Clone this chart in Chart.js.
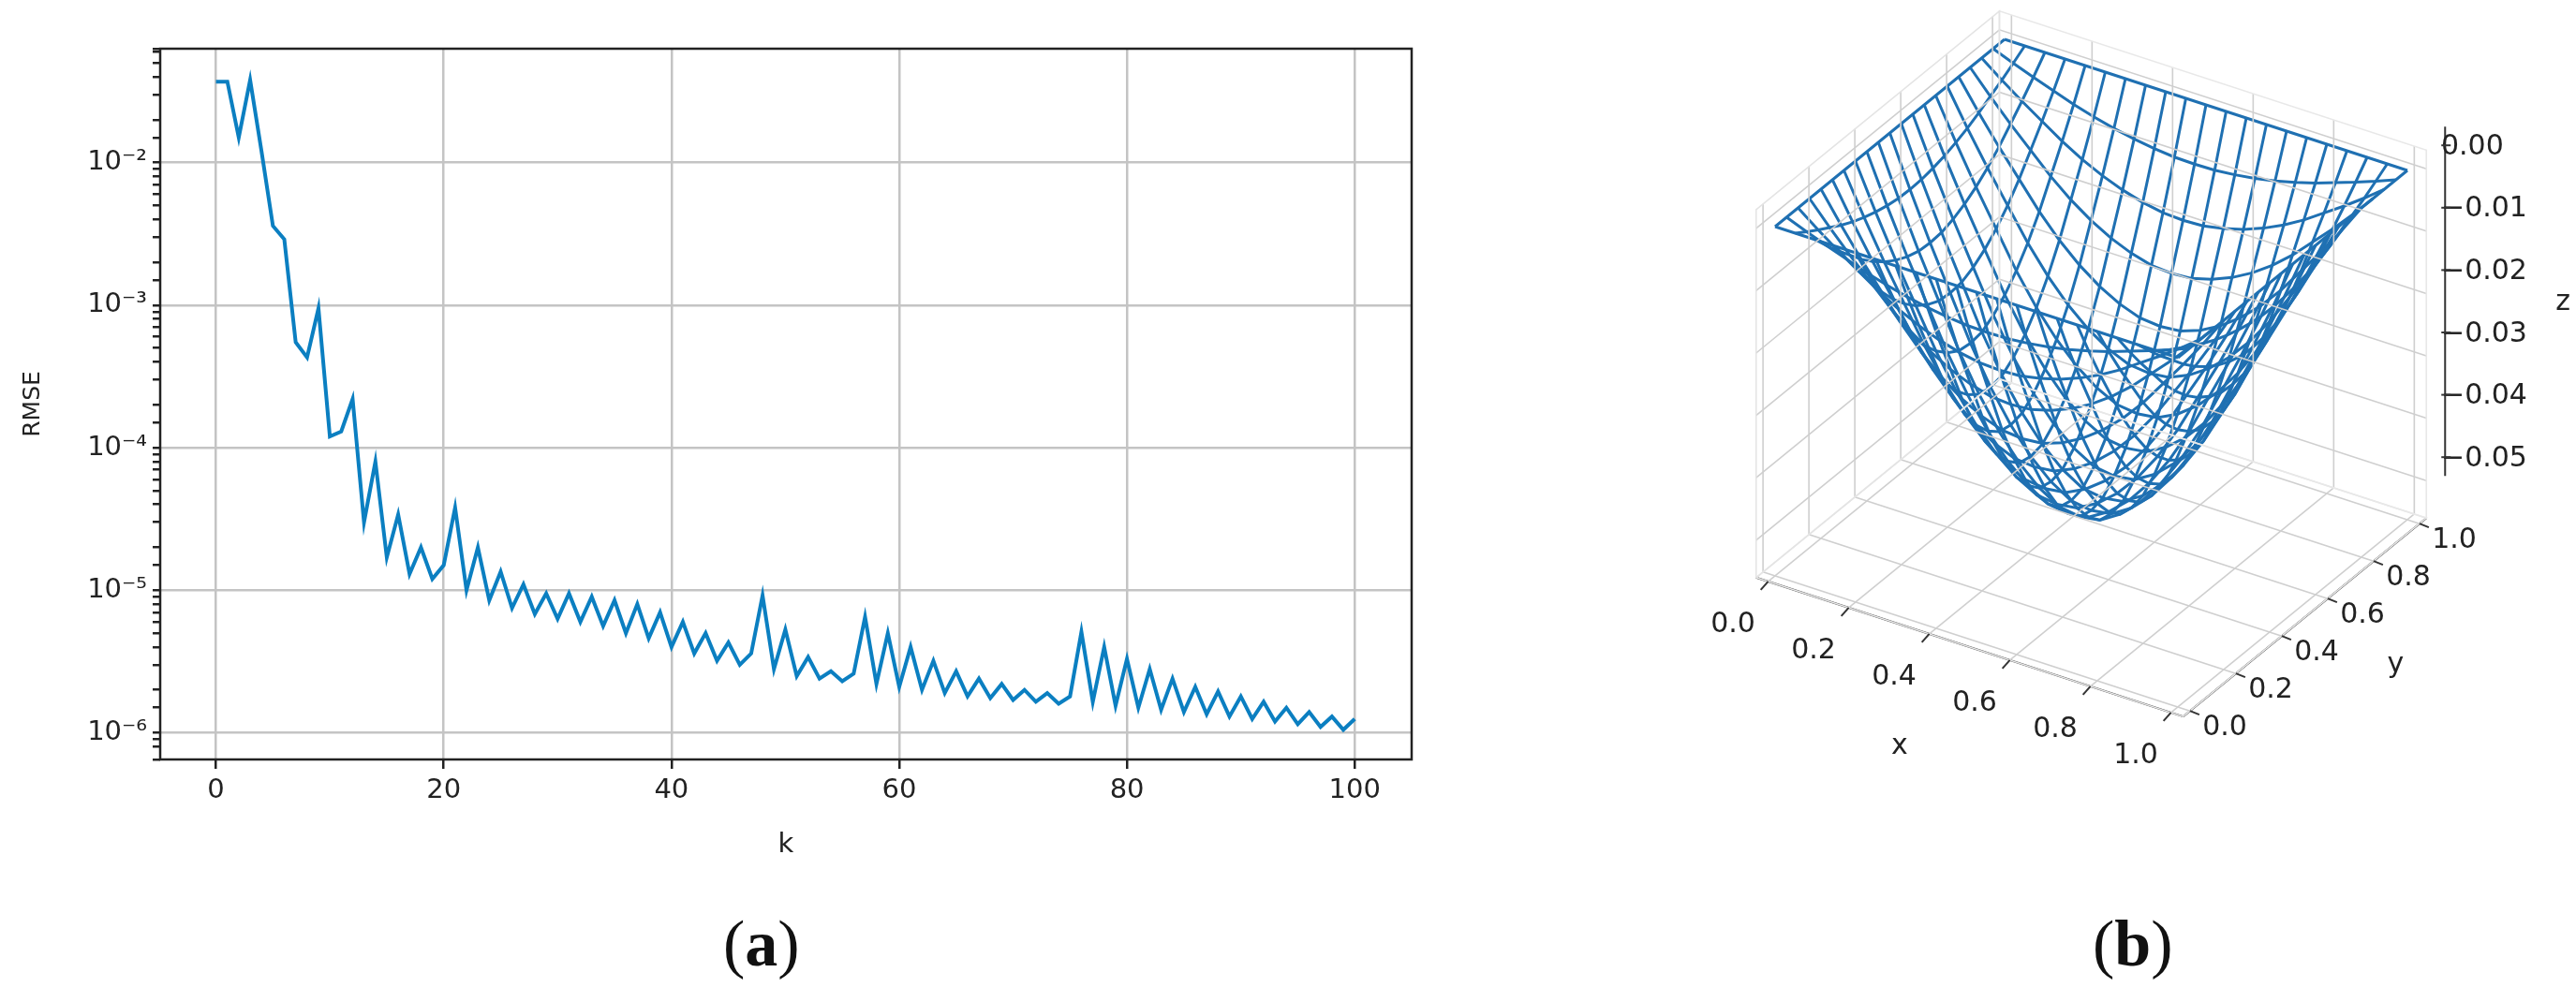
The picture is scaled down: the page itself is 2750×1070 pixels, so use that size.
<!DOCTYPE html>
<html><head><meta charset="utf-8">
<script src="https://cdn.jsdelivr.net/npm/chart.js@4.4.1/dist/chart.umd.min.js"></script>
<style>
html,body{margin:0;padding:0;background:#fff;width:2750px;height:1070px;overflow:hidden}
#c1{position:absolute;left:0;top:0}
#c2{position:absolute;left:1560px;top:0}
.cap{position:absolute;top:968px;font-family:"Liberation Serif",serif;font-size:70px;color:#111}
</style></head><body>
<canvas id="c1" width="1560" height="1070"></canvas>
<canvas id="c2" width="1190" height="1070"></canvas>
<div class="cap" style="left:772px">(<b>a</b>)</div>
<div class="cap" style="left:2234px">(<b>b</b>)</div>
<script>
// ---------- data (a) ----------
const iterations = Array.from({length:101},(_,i)=>i);
const rmse = [0.037,0.037,0.015,0.038,0.012,0.0036,0.0029,0.00055,0.00043,0.00095,
0.00012,0.00013,0.00022,3e-5,8e-5,1.7e-5,3.4e-5,1.3e-5,2e-5,1.2e-5,
1.5e-5,3.8e-5,1e-5,2e-5,8.5e-6,1.35e-5,7.5e-6,1.1e-5,6.8e-6,9.5e-6,
6.3e-6,9.5e-6,6e-6,9e-6,5.6e-6,8.5e-6,5e-6,8e-6,4.6e-6,7e-6,
4e-6,6e-6,3.6e-6,5e-6,3.2e-6,4.3e-6,3e-6,3.6e-6,9.2e-6,2.8e-6,
5.3e-6,2.5e-6,3.4e-6,2.4e-6,2.7e-6,2.3e-6,2.6e-6,6.5e-6,2.2e-6,5e-6,
2.1e-6,4e-6,2e-6,3.2e-6,1.9e-6,2.7e-6,1.8e-6,2.4e-6,1.75e-6,2.2e-6,
1.7e-6,2e-6,1.65e-6,1.9e-6,1.6e-6,1.8e-6,5.1e-6,1.65e-6,4e-6,1.55e-6,
3.3e-6,1.5e-6,2.8e-6,1.45e-6,2.4e-6,1.4e-6,2.1e-6,1.35e-6,1.95e-6,1.3e-6,
1.8e-6,1.25e-6,1.65e-6,1.2e-6,1.5e-6,1.15e-6,1.4e-6,1.1e-6,1.3e-6,1.05e-6,1.25e-6];
const xTicks = [0,20,40,60,80,100];
const yTickLabels = {'-2':'10⁻²','-3':'10⁻³','-4':'10⁻⁴','-5':'10⁻⁵','-6':'10⁻⁶'};
// ---------- data (b) ----------
const gridVals = [0,0.05,0.1,0.15,0.2,0.25,0.3,0.35,0.4,0.45,0.5,0.55,0.6,0.65,0.7,0.75,0.8,0.85,0.9,0.95,1];
const profile = [0,0.16,0.31,0.45,0.59,0.71,0.81,0.89,0.95,0.99,1,0.99,0.95,0.89,0.81,0.71,0.59,0.45,0.31,0.16,0];
const depth = -0.05;
const axisTicks = ['0.0','0.2','0.4','0.6','0.8','1.0'];
const zTicks = ['0.00','−0.01','−0.02','−0.03','−0.04','−0.05'];

const F = '"DejaVu Sans", sans-serif';
const isMajor = v => v>0 && Math.abs(Math.log10(v) - Math.round(Math.log10(v))) < 1e-6;

const frame = {id:'frame', afterDraw(c){const a=c.chartArea,x=c.ctx;x.save();x.strokeStyle='#222';x.lineWidth=2.5;x.strokeRect(a.left,a.top,a.right-a.left,a.bottom-a.top);x.restore();}};

new Chart(document.getElementById('c1'),{
  type:'line',
  data:{datasets:[{data:iterations.map((k,i)=>({x:k,y:rmse[i]})),borderColor:'#0b7fc1',borderWidth:4,pointRadius:0,tension:0}]},
  options:{responsive:false,animation:false,
    layout:{padding:{left:0,top:52,right:53,bottom:0}},
    plugins:{legend:{display:false},tooltip:{enabled:false}},
    scales:{
      x:{type:'linear',min:-4.9,max:105,
        afterBuildTicks:s=>{s.ticks=xTicks.map(v=>({value:v}));},
        afterFit:s=>{s.height=259;},
        grid:{color:'#c4c4c4',lineWidth:2.5,tickColor:'#222',tickLength:10},
        border:{display:false},
        ticks:{font:{family:F,size:29},color:'#222',padding:6},
        title:{display:true,text:'k',font:{family:F,size:29},color:'#222',padding:{top:8,bottom:150}}},
      y:{type:'logarithmic',min:6.5e-7,max:0.063,
        afterFit:s=>{s.width=171;},
        grid:{color:c=>(c.tick&&isMajor(c.tick.value))?'#c4c4c4':'rgba(0,0,0,0)',lineWidth:2.5,
              tickColor:'#222',tickLength:8},
        border:{display:false},
        ticks:{autoSkip:false,font:{family:F,size:29},color:'#222',padding:6,
          callback:v=>isMajor(v)?(yTickLabels[String(Math.round(Math.log10(v)))]||''):''},
        title:{display:true,text:'RMSE',font:{family:F,size:25},color:'#222',padding:{top:20,bottom:20}}}
    }},
  plugins:[frame]
});

// ---------- (b) 3-D wireframe projected through a pixel scale ----------
const O=[1895,575], ex=[430,140], ey=[245,-200], ez=6660;
function P(x,y,z){return {x:O[0]+x*ex[0]+y*ey[0], y:O[1]+x*ex[1]+y*ey[1]-(z-depth)*ez};}
const ds=[];
const zmin=-0.056, zmax=0.003, lo=-0.03, hi=1.03;
function poly(pts,opt){ds.push(Object.assign({data:pts,showLine:true,pointRadius:0,borderWidth:1.6,borderColor:'#cfcfcf',tension:0,fill:false},opt));}
poly([P(lo,lo,zmin),P(lo,hi,zmin),P(lo,hi,zmax),P(lo,lo,zmax),P(lo,lo,zmin)],{backgroundColor:'#ececec',fill:true,borderColor:'#e4e4e4'});
poly([P(lo,hi,zmin),P(hi,hi,zmin),P(hi,hi,zmax),P(lo,hi,zmax),P(lo,hi,zmin)],{backgroundColor:'#f2f2f2',fill:true,borderColor:'#e8e8e8'});
poly([P(lo,lo,zmin),P(hi,lo,zmin),P(hi,hi,zmin),P(lo,hi,zmin),P(lo,lo,zmin)],{backgroundColor:'#f5f5f5',fill:true,borderColor:'#e8e8e8'});
const gt=[0,0.2,0.4,0.6,0.8,1], gz=[0,-0.01,-0.02,-0.03,-0.04,-0.05];
gt.forEach(v=>{
  poly([P(lo,v,zmin),P(lo,v,zmax)]); poly([P(v,hi,zmin),P(v,hi,zmax)]);
  poly([P(v,lo,zmin),P(v,hi,zmin)]); poly([P(lo,v,zmin),P(hi,v,zmin)]);
});
gz.forEach(z=>{poly([P(lo,lo,z),P(lo,hi,z),P(hi,hi,z)]);});
poly([P(lo,lo,zmin),P(hi,lo,zmin)],{borderColor:'#333',borderWidth:2});
poly([P(hi,lo,zmin),P(hi,hi,zmin)],{borderColor:'#333',borderWidth:2});
poly([P(hi,hi,zmin+0.003),P(hi,hi,zmax)].map(p=>({x:p.x+20,y:p.y-25})),{borderColor:'#333',borderWidth:2});
const W='#1f70b2';
gridVals.forEach((yv,j)=>poly(gridVals.map((xv,i)=>P(xv,yv,depth*profile[i]*profile[j])),{borderColor:W,borderWidth:3}));
gridVals.forEach((xv,i)=>poly(gridVals.map((yv,j)=>P(xv,yv,depth*profile[i]*profile[j])),{borderColor:W,borderWidth:3}));

const labels3d={id:'l3',afterDraw(c){
  const xs=c.scales.x, ys=c.scales.y, g=c.ctx; g.save(); g.fillStyle='#222'; g.font='30px '+F;
  const px=p=>[xs.getPixelForValue(p.x),ys.getPixelForValue(p.y)];
  g.textAlign='center'; g.textBaseline='middle';
  axisTicks.forEach((t,i)=>{const v=i/5;let q=px(P(v,0,depth));g.fillText(t,q[0]-45,q[1]+92);
    q=px(P(1,v,depth));g.fillText(t,q[0]+50,q[1]+62);});
  g.textAlign='left';
  zTicks.forEach((t,i)=>{const q=px(P(1,1,-0.01*i));g.fillText(t,q[0]+36,q[1]-25);});
  g.textAlign='center';
  let q=px(P(0.5,0,depth)); g.fillText('x',q[0]-82,q[1]+152);
  q=px(P(1,0.5,depth)); g.fillText('y',q[0]+110,q[1]+95);
  q=px(P(1,1,-0.025)); g.fillText('z',q[0]+166,q[1]-25);
  g.strokeStyle='#333'; g.lineWidth=2;
  axisTicks.forEach((t,i)=>{const v=i/5;let a=px(P(v,lo,zmin));g.beginPath();g.moveTo(a[0],a[1]);g.lineTo(a[0]-8,a[1]+9);g.stroke();
    a=px(P(hi,v,zmin));g.beginPath();g.moveTo(a[0],a[1]);g.lineTo(a[0]+10,a[1]+4);g.stroke();});
  zTicks.forEach((t,i)=>{const a=px(P(hi,hi,-0.01*i));g.beginPath();g.moveTo(a[0]+16,a[1]-25);g.lineTo(a[0]+26,a[1]-25);g.stroke();});
  g.restore();}};

new Chart(document.getElementById('c2'),{
  type:'scatter',
  data:{datasets:ds},
  options:{responsive:false,animation:false,layout:{padding:0},
    plugins:{legend:{display:false},tooltip:{enabled:false}},
    scales:{x:{type:'linear',min:1560,max:2750,display:false},
            y:{type:'linear',min:0,max:1070,reverse:true,display:false}}},
  plugins:[labels3d]
});
</script></body></html>
